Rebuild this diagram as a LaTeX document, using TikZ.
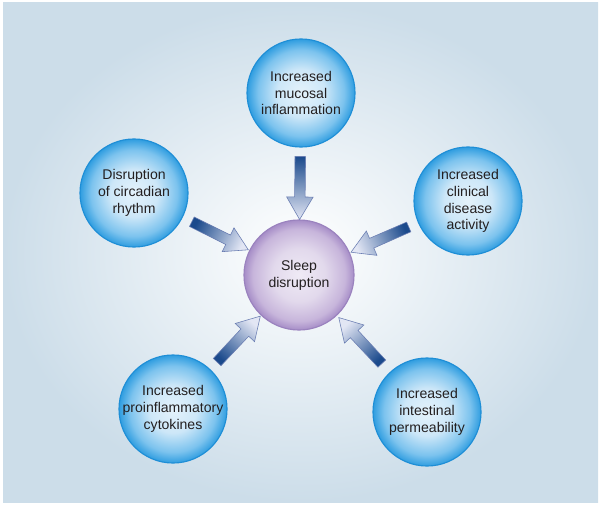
\documentclass[tikz,border=0pt]{standalone}
\usepackage{fontspec}
\setmainfont{Liberation Sans}
\usetikzlibrary{shapes.arrows,calc}

\definecolor{bgblue}{HTML}{CCDDE9}
\definecolor{txtgray}{HTML}{231F20}
\definecolor{rimblue}{HTML}{1E8ED6}
\definecolor{rimpurple}{HTML}{9A82BE}
\definecolor{arrdark}{HTML}{1B4A8C}
\definecolor{arrlight}{HTML}{E2E6F4}
\definecolor{arrline}{HTML}{6A7DB2}
% colores de los circulos
\definecolor{bubA}{HTML}{E4F2FB}
\definecolor{bubB}{HTML}{CDE7F8}
\definecolor{bubC}{HTML}{7CC3EE}
\definecolor{bubD}{HTML}{2F9DE0}
\definecolor{orbA}{HTML}{EFEAF5}
\definecolor{orbB}{HTML}{E2D9EC}
\definecolor{orbC}{HTML}{C7B5DB}
\definecolor{orbD}{HTML}{A68DC7}

\pgfdeclareradialshading{bubble}{\pgfpoint{0bp}{0bp}}{%
  color(0bp)=(bubA); color(11bp)=(bubB); color(20bp)=(bubC);
  color(25bp)=(bubD); color(50bp)=(bubD)}
\pgfdeclareradialshading{orb}{\pgfpoint{0bp}{0bp}}{%
  color(0bp)=(orbA); color(12bp)=(orbB); color(21bp)=(orbC);
  color(25bp)=(orbD); color(50bp)=(orbD)}

\begin{document}
\begin{tikzpicture}[x=0.025cm,y=-0.025cm,
  circtext/.style={align=center,text=txtgray,font=\fontsize{10}{12}\selectfont,inner sep=0pt},
  cause/.style={circle,draw=rimblue,line width=0.8pt,shading=bubble,minimum size=2.7cm,inner sep=0pt},
  effect/.style={cause,draw=rimpurple,shading=orb,minimum size=2.75cm},
  flow/.style={single arrow,draw=arrline,line width=0.4pt,top color=arrlight,bottom color=arrdark,
    minimum height=1.575cm,single arrow head extend=0.2cm,
    single arrow tip angle=61,single arrow head indent=0pt,inner xsep=0pt,inner ysep=0.125cm,
    sloped,allow upside down}]
  % fondo
  \useasboundingbox (0,0) rectangle (602,505);
  \shade[inner color=white,outer color=bgblue] (3,3) rectangle (598,502);
  % circulos
  \node[effect,label={[circtext]center:Sleep\\disruption}] (sleep) at (299,275) {};
  \node[cause,label={[circtext]center:Increased\\mucosal\\inflammation}] (mucosal) at (301,93) {};
  \node[cause,label={[circtext]center:Disruption\\of circadian\\rhythm}] (circadian) at (134,193) {};
  \node[cause,label={[circtext]center:Increased\\clinical\\disease\\activity}] (clinical) at (468,201) {};
  \node[cause,label={[circtext]center:Increased\\proinflammatory\\cytokines}] (cytokines) at (173,409) {};
  \node[cause,label={[circtext]center:Increased\\intestinal\\permeability}] (permeab) at (427,412) {};
  % flechas (degradado a lo largo de cada flecha)
  \foreach \src in {mucosal,circadian,clinical,cytokines,permeab}
    \path let \p1=($(sleep)-(\src)$), \n1={atan2(\y1,\x1)-90} in
      (\src) -- node[flow,shading angle=\n1]{} (sleep);
\end{tikzpicture}
\end{document}
